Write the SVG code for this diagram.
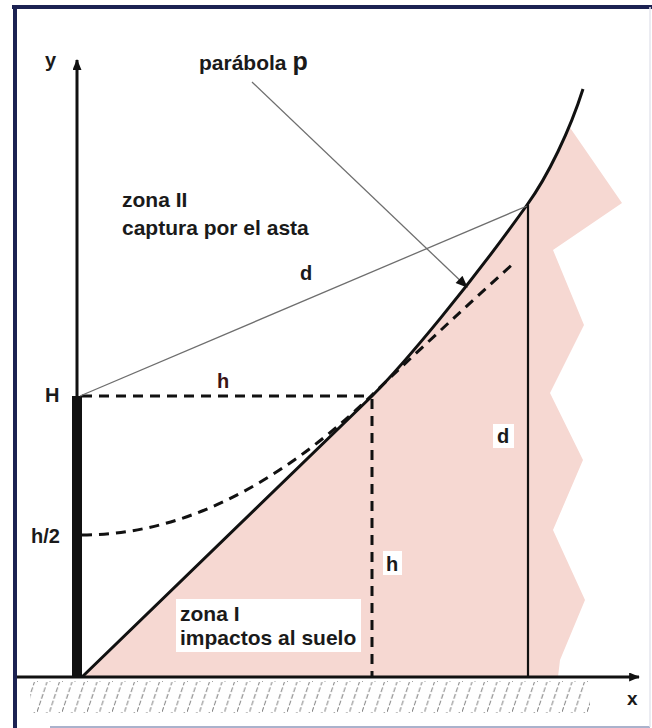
<svg xmlns="http://www.w3.org/2000/svg" width="652" height="728" viewBox="0 0 652 728">
  <defs>
    <style>
      .lbl { font-family: "Liberation Sans", Arial, sans-serif; font-weight: bold; fill: #1a1a1a; }
      .big { font-size: 21px; }
      .sm { font-size: 20px; }
      .dash { fill: none; stroke: #111; stroke-width: 3; stroke-dasharray: 10 7; }
      .thin { fill: none; stroke: #6e6e6e; stroke-width: 1.3; }
      .solid { fill: none; stroke: #111; stroke-width: 3; stroke-linejoin: round; }
    </style>
    <marker id="ah" viewBox="0 0 12 10" refX="11" refY="5" markerWidth="13" markerHeight="10" markerUnits="userSpaceOnUse" orient="auto">
      <path d="M0,0 L12,5 L0,10 Z" fill="#111"/>
    </marker>
    <marker id="axh" viewBox="0 0 12 10" refX="11" refY="5" markerWidth="12" markerHeight="9" markerUnits="userSpaceOnUse" orient="auto">
      <path d="M0,0 L12,5 L0,10 Z" fill="#111"/>
    </marker>
    <pattern id="hatch" patternUnits="userSpaceOnUse" x="37" y="682" width="12.5" height="30">
      <line x1="0" y1="30" x2="10" y2="0" stroke="#808080" stroke-width="1" stroke-dasharray="5 2"/>
    </pattern>
  </defs>

  <rect width="652" height="728" fill="#ffffff"/>

  <g id="frame">
    <line x1="12" y1="7" x2="652" y2="7" stroke="#1c2252" stroke-width="4"/>
    <line x1="15" y1="5" x2="15" y2="728" stroke="#1c2252" stroke-width="4"/>
    <line x1="50" y1="727" x2="650" y2="727" stroke="#aab2cc" stroke-width="2"/>
    <line x1="650" y1="7" x2="650" y2="727" stroke="#e4e6ee" stroke-width="1.5"/>
  </g>

  <g id="zone-fill">
    <path d="M82,677 L372,396 C405,363 470,285 527,205 C541.7,184.7 556.9,156.1 569.2,126.6 L622,203 L553,250 L584,325 L550,393 L583,460 L553,530 L585,600 L560,660 L558,677 Z" fill="#f6d8d2"/>
  </g>

  <g id="ground">
    <rect x="30" y="681" width="560" height="32" fill="url(#hatch)"/>
    <line x1="17" y1="677" x2="639" y2="677" stroke="#111" stroke-width="3" marker-end="url(#axh)"/>
  </g>

  <g id="pole">
    <line x1="77" y1="396" x2="77" y2="60" stroke="#111" stroke-width="3" marker-end="url(#axh)"/>
    <rect x="72" y="396" width="10" height="282" fill="#111"/>
  </g>

  <g id="connectors">
    <path id="solid-boundary" class="solid" d="M82,677 L372,396 C405,363 470,285 527,205 C548,176 570,130 583,89"/>
    <path id="parabola" class="dash" d="M82,535 Q227,535 372,395 Q440,330 515,262"/>
    <line id="h-level" class="dash" x1="82" y1="396" x2="372" y2="396"/>
    <line id="h-vertical" class="dash" x1="372" y1="399" x2="372" y2="677"/>
    <line id="d-radius" class="thin" x1="80" y1="396" x2="527" y2="206"/>
    <line id="d-vertical" x1="528" y1="205" x2="528" y2="677" stroke="#111" stroke-width="2.2"/>
    <line id="pointer" class="thin" x1="252" y1="82" x2="467" y2="287" marker-end="url(#ah)"/>
  </g>

  <g id="label-y"><text class="lbl sm" x="45" y="67">y</text></g>
  <g id="label-x"><text class="lbl" font-size="19" x="627" y="705">x</text></g>
  <g id="label-parabola"><text class="lbl" x="199" y="70" font-size="21">parábola <tspan font-size="25">p</tspan></text></g>
  <g id="label-zona2">
    <text class="lbl big" x="122" y="207">zona II</text>
    <text class="lbl big" x="122" y="235">captura por el asta</text>
  </g>
  <g id="label-d1"><text class="lbl sm" x="300" y="280">d</text></g>
  <g id="label-h1"><text class="lbl sm" x="217" y="388" style="fill:#3a1416">h</text></g>
  <g id="label-H"><text class="lbl sm" x="45" y="402">H</text></g>
  <g id="label-h2"><text class="lbl sm" x="31" y="543">h/2</text></g>
  <g id="label-h3">
    <rect x="383" y="551" width="19" height="24" fill="#ffffff"/>
    <text class="lbl sm" x="386" y="571">h</text>
  </g>
  <g id="label-d2">
    <rect x="493" y="424" width="21" height="24" fill="#ffffff"/>
    <text class="lbl sm" x="497" y="443">d</text>
  </g>
  <g id="label-zona1">
    <rect x="176" y="599" width="185" height="53" fill="#ffffff"/>
    <text class="lbl big" x="180" y="621">zona I</text>
    <text class="lbl big" x="180" y="645">impactos al suelo</text>
  </g>
</svg>
